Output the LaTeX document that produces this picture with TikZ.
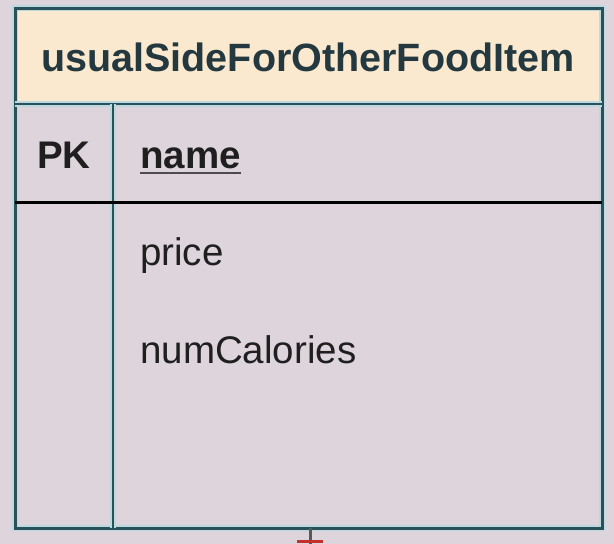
\documentclass[tikz,border=0pt]{standalone}
\usepackage{fontspec}
\setmainfont{Liberation Sans}
\usepackage{tikz}
\usetikzlibrary{positioning}
\definecolor{bgcol}{HTML}{DDD4DC}
\definecolor{headcol}{HTML}{FBE9CF}
\definecolor{edgecol}{HTML}{2A5058}
\definecolor{halocol}{HTML}{BBD9E0}
\definecolor{relcol}{HTML}{C4302E}
\definecolor{titlecol}{HTML}{23383F}
\newcommand{\attrfont}{\fontsize{38.5}{46}\selectfont}
\tikzset{
  frame/.style={draw=edgecol, line width=3pt,
    preaction={draw=halocol, line width=6pt}},
  attr/.style={anchor=base west, inner sep=0pt, font=\attrfont, text=black!88}
}

\begin{document}
\begin{tikzpicture}[x=1pt, y=-1pt]
\useasboundingbox[fill=bgcol] (0,0) rectangle (614,544);
\coordinate (tl) at (15,8);
\coordinate (br) at (602,528);
\coordinate (hl) at (15,104);
\coordinate (hr) at (602,104);
\coordinate (dt) at (113,104);
\coordinate (db) at (113,528);
\coordinate (kl) at (15,202);
\coordinate (kr) at (602,202);

\fill[headcol] (tl) rectangle (hr);
\draw[frame] (tl) rectangle (br);
\draw[frame, line width=2.5pt] (hl) -- (hr);
\draw[frame, line width=2.5pt] (dt) -- (db);
\draw[black, line width=3pt] (kl) -- (kr);

\node[anchor=base, inner sep=0pt, font=\fontsize{39.5}{46}\selectfont\bfseries, text=titlecol] (title) at (308,71) {usualSideForOtherFoodItem};
\node[anchor=base, inner sep=0pt, font=\attrfont\bfseries, text=black!88] (pk) at (64,168) {PK};
\node[attr, font=\attrfont\bfseries] (nm) at (140,168) {name};
\node[attr] (price) at (140,265) {price};
\node[attr] (cal) at (140,363) {numCalories};
\draw[black!70, line width=2.5pt] ([yshift=-5pt]nm.base west) -- ([yshift=-5pt]nm.base east);

\coordinate (foot) at (310,528);
\coordinate (end) at (310,546);
\coordinate (barl) at (297,541);
\coordinate (barr) at (323,541);
\draw[black!65, line width=3pt] (foot) -- (end);
\draw[relcol, line width=3pt] (barl) -- (barr);
\end{tikzpicture}
\end{document}
